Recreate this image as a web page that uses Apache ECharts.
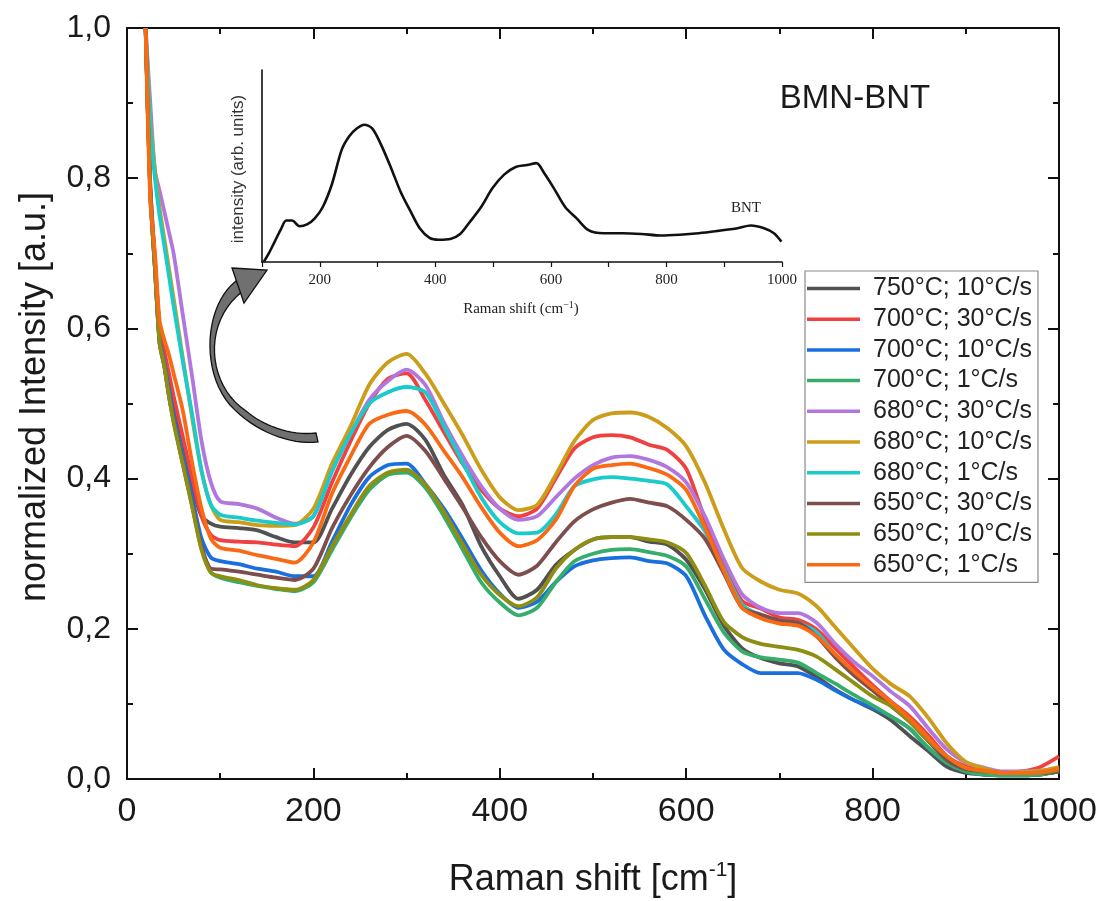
<!DOCTYPE html>
<html><head><meta charset="utf-8">
<script src="https://cdn.jsdelivr.net/npm/echarts@6/dist/echarts.min.js"></script>
<style>html,body{margin:0;padding:0;background:#fff}#c{width:1111px;height:901px}</style>
</head><body><div id="c"></div>
<script>
// ---- data (Raman shift in cm-1, normalized intensity) ----
const shift = [20,25,30,35,40,45,50,60,70,80,90,100,120,140,160,180,200,220,240,260,280,300,320,340,360,380,400,420,440,460,480,500,520,540,560,580,600,620,640,660,680,700,720,740,760,780,800,820,840,860,880,900,920,940,960,980,1000];
const s750_10 = [1.0,0.79,0.69,0.60,0.56,0.535,0.50, 0.45,0.39,0.35,0.34,0.336, 0.334,0.331,0.322,0.315, 0.315,0.36,0.405,0.442,0.465,0.473,0.452,0.405,0.365,0.31,0.27,0.24,0.252,0.285,0.305,0.319,0.322,0.322,0.316,0.312, 0.292,0.253,0.205,0.174,0.161,0.154,0.15,0.136,0.119,0.105,0.093,0.078,0.057,0.037,0.016,0.008,0.006,0.005,0.005,0.006,0.01];
const s700_30 = [1.0,0.79,0.69,0.60,0.57,0.54,0.51, 0.455,0.40,0.35,0.325,0.318, 0.316,0.315,0.312,0.31, 0.335,0.395,0.45,0.50,0.533,0.54,0.505,0.462,0.42,0.385,0.36,0.35,0.36,0.40,0.44,0.455,0.458,0.455,0.445,0.438, 0.413,0.346,0.285,0.237,0.227,0.215,0.212,0.199,0.174,0.149,0.125,0.103,0.083,0.058,0.03,0.017,0.012,0.008,0.01,0.016,0.03];
const s700_10 = [1.0,0.78,0.68,0.585,0.555,0.52,0.485, 0.43,0.375,0.32,0.295,0.29, 0.286,0.28,0.276,0.27, 0.27,0.316,0.365,0.402,0.418,0.42,0.393,0.36,0.32,0.278,0.247,0.228,0.236,0.262,0.283,0.291,0.294,0.295,0.29,0.287, 0.27,0.218,0.173,0.153,0.141,0.141,0.141,0.132,0.118,0.105,0.095,0.083,0.067,0.041,0.021,0.01,0.006,0.005,0.005,0.006,0.01];
const s700_1 = [1.0,0.78,0.68,0.58,0.55,0.51,0.476, 0.42,0.363,0.307,0.275,0.268, 0.262,0.257,0.253,0.25, 0.262,0.305,0.348,0.385,0.405,0.408,0.388,0.35,0.306,0.262,0.235,0.218,0.228,0.262,0.29,0.3,0.305,0.306,0.302,0.297, 0.283,0.24,0.196,0.17,0.162,0.159,0.155,0.141,0.127,0.112,0.098,0.083,0.067,0.041,0.021,0.01,0.006,0.005,0.005,0.006,0.01];
const s680_30 = [1.0,0.90,0.81,0.783,0.756,0.728,0.70, 0.617,0.535,0.45,0.395,0.37, 0.366,0.36,0.348,0.34, 0.35,0.41,0.46,0.505,0.53,0.545,0.525,0.475,0.43,0.39,0.36,0.345,0.35,0.375,0.40,0.418,0.428,0.43,0.425,0.415, 0.395,0.35,0.294,0.246,0.228,0.221,0.221,0.208,0.18,0.156,0.137,0.116,0.097,0.067,0.039,0.022,0.015,0.01,0.01,0.011,0.014];
const s680_10 = [1.0,0.88,0.81,0.76,0.72,0.68,0.64, 0.56,0.48,0.41,0.365,0.345, 0.342,0.338,0.337,0.338, 0.36,0.42,0.47,0.525,0.555,0.566,0.54,0.50,0.458,0.412,0.375,0.358,0.365,0.405,0.45,0.478,0.487,0.488,0.482,0.467, 0.443,0.395,0.334,0.281,0.263,0.252,0.247,0.23,0.202,0.174,0.147,0.126,0.11,0.081,0.047,0.023,0.014,0.008,0.009,0.011,0.016];
const s680_1 = [1.0,0.87,0.80,0.75,0.71,0.67,0.63, 0.555,0.485,0.41,0.365,0.352, 0.348,0.344,0.341,0.339, 0.35,0.41,0.46,0.50,0.515,0.522,0.515,0.47,0.422,0.375,0.342,0.327,0.328,0.352,0.39,0.399,0.402,0.40,0.397,0.392, 0.363,0.33,0.28,0.232,0.218,0.211,0.208,0.195,0.165,0.14,0.12,0.1,0.077,0.051,0.027,0.014,0.01,0.008,0.008,0.009,0.012];
const s650_30 = [1.0,0.78,0.68,0.58,0.55,0.51,0.478, 0.42,0.365,0.31,0.28,0.279, 0.276,0.272,0.268,0.265, 0.28,0.334,0.378,0.415,0.442,0.457,0.437,0.40,0.362,0.322,0.29,0.272,0.284,0.315,0.343,0.359,0.368,0.373,0.368,0.363, 0.345,0.32,0.275,0.228,0.219,0.211,0.208,0.19,0.162,0.138,0.118,0.097,0.076,0.05,0.025,0.013,0.01,0.008,0.008,0.008,0.01];
const s650_10 = [1.0,0.78,0.68,0.58,0.55,0.51,0.475, 0.418,0.362,0.305,0.275,0.27, 0.265,0.258,0.254,0.252, 0.265,0.31,0.352,0.39,0.408,0.412,0.392,0.356,0.313,0.272,0.245,0.23,0.242,0.28,0.305,0.319,0.322,0.322,0.319,0.315, 0.301,0.258,0.21,0.189,0.18,0.176,0.172,0.163,0.146,0.128,0.11,0.097,0.076,0.051,0.03,0.015,0.01,0.008,0.008,0.008,0.012];
const s650_1 = [1.0,0.77,0.70,0.61,0.585,0.565,0.54, 0.49,0.42,0.36,0.32,0.308, 0.304,0.298,0.293,0.288, 0.315,0.38,0.43,0.473,0.485,0.49,0.472,0.437,0.402,0.362,0.328,0.31,0.318,0.345,0.39,0.413,0.418,0.42,0.414,0.405, 0.385,0.335,0.278,0.228,0.214,0.207,0.204,0.19,0.166,0.143,0.122,0.102,0.08,0.054,0.03,0.015,0.011,0.008,0.008,0.009,0.014];

const seriesNames = ['750°C; 10°C/s','700°C; 30°C/s','700°C; 10°C/s','700°C; 1°C/s','680°C; 30°C/s','680°C; 10°C/s','680°C; 1°C/s','650°C; 30°C/s','650°C; 10°C/s','650°C; 1°C/s'];
const seriesValues = [s750_10,s700_30,s700_10,s700_1,s680_30,s680_10,s680_1,s650_30,s650_10,s650_1];

// inset (BNT reference spectrum)
const insetShift = [103,112,122,132,142,152,165,178,191,205,221,238,251,264,277,291,307,324,340,357,373,390,406,426,443,459,479,499,519,539,559,575,588,605,625,645,665,691,724,757,790,823,856,889,923,946,969,986,999];
const insetBNT = [0,0.046,0.106,0.166,0.216,0.216,0.186,0.196,0.226,0.285,0.405,0.585,0.655,0.695,0.715,0.695,0.605,0.485,0.365,0.265,0.176,0.126,0.116,0.12,0.146,0.206,0.285,0.385,0.455,0.495,0.505,0.515,0.465,0.385,0.285,0.226,0.166,0.15,0.15,0.146,0.138,0.142,0.15,0.162,0.176,0.19,0.176,0.15,0.106];

// ---- styles ----
const colors = ['#515151','#F14040','#1A6FDF','#37AD6B','#B177DE','#CC9D1A','#1BCBCB','#7D4E4E','#8E8E12','#F96A15'];
const SANS = '"Liberation Sans", Arial, sans-serif';
const SERIF = '"Liberation Serif", "Times New Roman", serif';
const axisCol = '#111';

// arrow outline (decoration) built from cubic bezier segments
function bez(p0,p1,p2,p3,n){const out=[];for(let i=0;i<=n;i++){const t=i/n,u=1-t;out.push([u*u*u*p0[0]+3*u*u*t*p1[0]+3*u*t*t*p2[0]+t*t*t*p3[0],u*u*u*p0[1]+3*u*u*t*p1[1]+3*u*t*t*p2[1]+t*t*t*p3[1]]);}return out;}
const arrowShaft = [].concat(
  bez([236,281],[205,305],[200,370],[230,405],20),
  bez([230,405],[255,432],[290,445],[318,442],16),
  bez([316,433],[290,436],[262,425],[246,411],16),
  bez([246,411],[207,385],[202,322],[243,291],20)
);
const arrowHead = [[232,268],[267,270],[244,303]];

const chart = echarts.init(document.getElementById('c'), null, {renderer:'canvas'});

const mainAxisCommon = {
  min: 0, axisLine: {show:true, onZero:false, lineStyle:{color:axisCol, width:2}},
  axisTick: {show:true, inside:true, length:11, lineStyle:{color:axisCol, width:2}},
  minorTick: {show:true, splitNumber:2, length:6, lineStyle:{color:axisCol, width:2}},
  splitLine: {show:false}
};

const option = {
  backgroundColor: '#fff',
  animation: false,
  grid: [
    {left:127, top:28, width:932, height:751, containLabel:false},
    {left:262, top:70, width:520, height:192, containLabel:false}
  ],
  xAxis: [
    Object.assign({}, mainAxisCommon, {type:'value', gridIndex:0, position:'bottom', max:1000, interval:200,
      axisLabel:{show:true, margin:16, fontSize:34, fontFamily:SANS, color:'#1a1a1a', formatter: v => String(v)}}),
    Object.assign({}, mainAxisCommon, {type:'value', gridIndex:0, position:'top', max:1000, interval:200,
      axisLabel:{show:false}}),
    {type:'value', gridIndex:1, min:100, max:1000, interval:100, position:'bottom',
      axisLine:{show:true, onZero:false, lineStyle:{color:'#111', width:1.6}},
      axisTick:{show:true, inside:false, length:5, lineStyle:{color:'#111', width:1.2}},
      splitLine:{show:false},
      axisLabel:{show:true, margin:11, fontSize:15, fontFamily:SERIF, color:'#222', showMinLabel:true, showMaxLabel:true,
        formatter: v => (v % 200 === 0 ? String(v) : '')}}
  ],
  yAxis: [
    Object.assign({}, mainAxisCommon, {type:'value', gridIndex:0, position:'left', max:1, interval:0.2,
      axisLabel:{show:true, margin:16, fontSize:32, fontFamily:SANS, color:'#1a1a1a',
        formatter: v => v.toFixed(1).replace('.', ',')}}),
    Object.assign({}, mainAxisCommon, {type:'value', gridIndex:0, position:'right', max:1, interval:0.2,
      axisLabel:{show:false}}),
    {type:'value', gridIndex:1, min:0, max:1, position:'left',
      axisLine:{show:true, onZero:false, lineStyle:{color:'#111', width:1.6}},
      axisTick:{show:false}, axisLabel:{show:false}, splitLine:{show:false}}
  ],
  legend: {
    show:true, orient:'vertical', left:805, top:271,
    data: seriesNames,
    icon:'rect', itemWidth:53, itemHeight:3.5, itemGap:5.7,
    padding:[5,6,5,2],
    borderColor:'#8a8a8a', borderWidth:1.2, backgroundColor:'#fff',
    textStyle:{fontSize:25, lineHeight:25, fontFamily:SANS, color:'#222', padding:[0,0,0,8]},
    selectedMode:false
  },
  series: seriesNames.map((n,i) => ({
    name:n, type:'line', xAxisIndex:0, yAxisIndex:0,
    data: shift.map((x,j) => [x, seriesValues[i][j]]),
    showSymbol:false, symbol:'none', smooth:0.25, clip:true,
    lineStyle:{width:3.8, color:colors[i]}, itemStyle:{color:colors[i]},
    emphasis:{disabled:true}
  })).concat([{
    name:'BNT', type:'line', xAxisIndex:2, yAxisIndex:2,
    data: insetShift.map((x,j) => [x, insetBNT[j]]),
    showSymbol:false, symbol:'none', smooth:0.3,
    lineStyle:{width:2.6, color:'#111'}, itemStyle:{color:'#111'},
    emphasis:{disabled:true}
  }]),
  graphic: [
    {type:'text', x:35, y:397, rotation:Math.PI/2, silent:true,
      style:{text:'normalized Intensity [a.u.]', fontSize:36, fontFamily:SANS, fill:'#1a1a1a', align:'center', verticalAlign:'middle'}},
    {type:'text', x:593, y:880, silent:true,
      style:{text:'Raman shift [cm{sup|-1}]', fontSize:36, fontFamily:SANS, fill:'#1a1a1a', align:'center', verticalAlign:'middle', lineHeight:40,
        rich:{sup:{fontSize:21, fontFamily:SANS, fill:'#1a1a1a', verticalAlign:'top', lineHeight:22}}}},
    {type:'text', x:855, y:99, silent:true,
      style:{text:'BMN-BNT', fontSize:33, fontFamily:SANS, fill:'#1a1a1a', align:'center', verticalAlign:'middle'}},
    {type:'text', x:238, y:169, rotation:Math.PI/2, silent:true,
      style:{text:'intensity (arb. units)', fontSize:17, fontFamily:SANS, fill:'#333', align:'center', verticalAlign:'middle'}},
    {type:'text', x:521, y:309, silent:true,
      style:{text:'Raman shift (cm{sup|−1})', fontSize:15, fontFamily:SERIF, fill:'#222', align:'center', verticalAlign:'middle', lineHeight:18,
        rich:{sup:{fontSize:10, fontFamily:SERIF, fill:'#222', verticalAlign:'top', lineHeight:10}}}},
    {type:'text', x:746, y:208, silent:true,
      style:{text:'BNT', fontSize:15, fontFamily:SERIF, fill:'#222', align:'center', verticalAlign:'middle'}},
    {type:'polygon', silent:true, z:10, shape:{points:arrowShaft},
      style:{fill:'#707070', stroke:'#111', lineWidth:1.3}},
    {type:'polygon', silent:true, z:10, shape:{points:arrowHead},
      style:{fill:'#707070', stroke:'#111', lineWidth:1.3}}
  ]
};
chart.setOption(option);
</script>
</body></html>
